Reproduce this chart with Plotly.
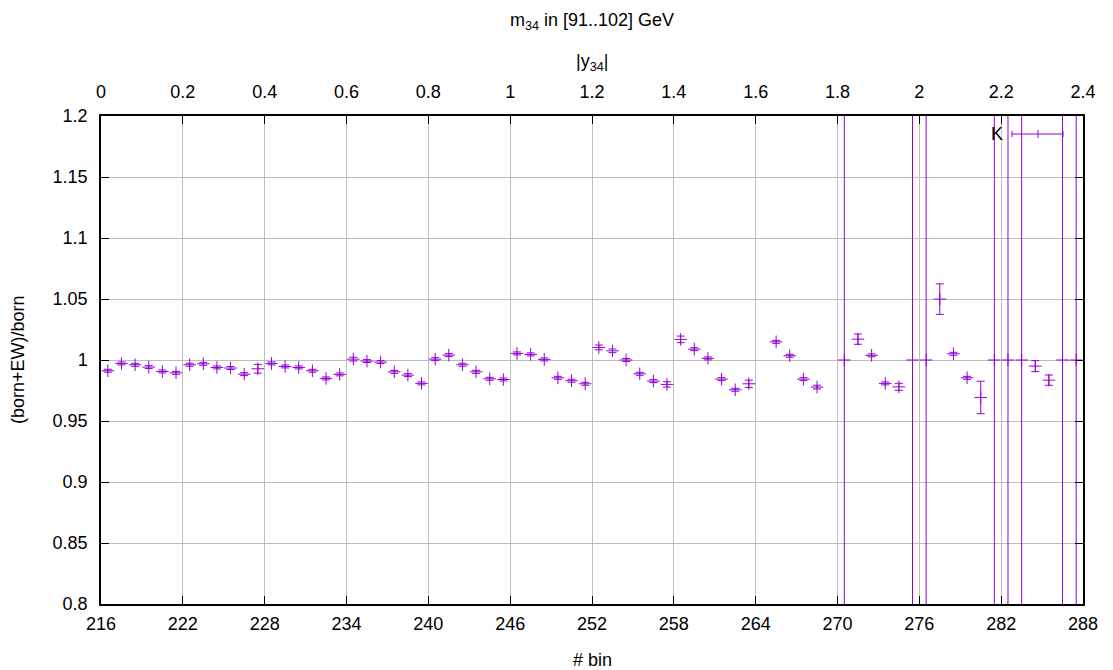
import plotly.graph_objects as go

# bin centers 216.5 .. 287.5
bins = [216.5 + i for i in range(72)]

ratio = [
    0.9912, 0.9972, 0.9961, 0.9942, 0.9906, 0.9895,   # 216-221
    0.9961, 0.9969, 0.9939, 0.9934, 0.9884, 0.9928,   # 222-227
    0.9972, 0.9947, 0.9939, 0.9912, 0.9849, 0.9882,   # 228-233
    1.0007, 0.9991, 0.9983, 0.9903, 0.9876, 0.9808,   # 234-239
    1.0007, 1.0040, 0.9961, 0.9903, 0.9846, 0.9840,   # 240-245
    1.0054, 1.0046, 1.0005, 0.9854, 0.9830, 0.9805,   # 246-251
    1.0103, 1.0075, 1.0000, 0.9887, 0.9827, 0.9800,   # 252-257
    1.0169, 1.0089, 1.0013, 0.9843, 0.9756, 0.9805,   # 258-263
    None,   1.0149, 1.0035, 0.9843, 0.9778, None,     # 264-269
    1.0000, 1.0171, 1.0038, 0.9808, 0.9780, 1.0000,   # 270-275
    1.0000, 1.0499, 1.0051, 0.9854, 0.9693, 1.0000,   # 276-281
    1.0000, 1.0000, 0.9950, 0.9835, 1.0000, 1.0000,   # 282-287
]

err = [
    0.0012, 0.0012, 0.0012, 0.0012, 0.0012, 0.0012,
    0.0012, 0.0012, 0.0012, 0.0012, 0.0012, 0.0036,
    0.0012, 0.0012, 0.0012, 0.0012, 0.0012, 0.0012,
    0.0015, 0.0012, 0.0012, 0.0012, 0.0012, 0.0012,
    0.0012, 0.0012, 0.0012, 0.0012, 0.0012, 0.0012,
    0.0012, 0.0012, 0.0012, 0.0012, 0.0012, 0.0012,
    0.0020, 0.0015, 0.0012, 0.0012, 0.0012, 0.0022,
    0.0027, 0.0012, 0.0012, 0.0012, 0.0012, 0.0030,
    0.0,    0.0012, 0.0012, 0.0012, 0.0015, 0.0,
    1.0,    0.0042, 0.0012, 0.0012, 0.0029, 1.0,
    1.0,    0.0125, 0.0012, 0.0012, 0.0133, 1.0,
    1.0,    1.0,    0.0045, 0.0042, 1.0,    1.0,
]

x_ticks = [216, 222, 228, 234, 240, 246, 252, 258, 264, 270, 276, 282, 288]
x2_ticks = [0, 0.2, 0.4, 0.6, 0.8, 1, 1.2, 1.4, 1.6, 1.8, 2, 2.2, 2.4]
x2_labels = ["0", "0.2", "0.4", "0.6", "0.8", "1", "1.2", "1.4", "1.6", "1.8", "2", "2.2", "2.4"]
y_ticks = [0.8, 0.85, 0.9, 0.95, 1.0, 1.05, 1.1, 1.15, 1.2]
y_labels = ["0.8", "0.85", "0.9", "0.95", "1", "1.05", "1.1", "1.15", "1.2"]

COLOR = "#9400D3"
FONT = "Liberation Sans, Arial, sans-serif"
FS = 18

fig = go.Figure()
fig.add_trace(go.Scatter(
    x=bins, y=ratio, mode="markers", name="K", showlegend=False,
    marker=dict(symbol="cross-thin", size=9, color=COLOR,
                line=dict(color=COLOR, width=1)),
    error_y=dict(type="data", array=err, visible=True,
                 color=COLOR, thickness=1, width=4),
))
# dummy trace to activate the top axis
fig.add_trace(go.Scatter(x=[None], y=[None], xaxis="x2", yaxis="y",
                         showlegend=False, hoverinfo="skip"))

L, R, T, B = 101, 30, 116, 66
W, H = 1113, 670
pw, ph = W - L - R, H - T - B

def py(p):
    return (H - B - p) / ph

def px(p):
    return (p - L) / pw

grid_col = "#bdbdbd"
fig.update_layout(
    width=W, height=H,
    margin=dict(l=L, r=R, t=T, b=B),
    plot_bgcolor="white", paper_bgcolor="white",
    font=dict(family=FONT, size=FS, color="black"),
    xaxis=dict(range=[216, 288], tickvals=x_ticks, ticktext=[str(v) for v in x_ticks],
               showgrid=True, gridcolor=grid_col, gridwidth=1,
               showline=True, linecolor="black", linewidth=1.5, mirror=True,
               ticks="inside", ticklen=8, tickcolor="black",
               ticklabelstandoff=3, zeroline=False),
    xaxis2=dict(range=[0, 2.4], overlaying="x", side="top",
                tickvals=x2_ticks, ticktext=x2_labels, showgrid=False,
                ticks="inside", ticklen=8, tickcolor="black",
                ticklabelstandoff=13, zeroline=False, showline=False),
    yaxis=dict(range=[0.8, 1.2], tickvals=y_ticks, ticktext=y_labels,
               showgrid=True, gridcolor=grid_col, gridwidth=1,
               showline=True, linecolor="black", linewidth=1.5, mirror="ticks",
               ticks="inside", ticklen=8, tickcolor="black",
               ticklabelstandoff=8, zeroline=False),
    showlegend=False,
)

ann = [
    dict(text="m<sub>34</sub> in [91..102] GeV", x=0.5, y=py(22), xref="paper", yref="paper",
         showarrow=False, font=dict(size=FS), xanchor="center", yanchor="middle"),
    dict(text="|y<sub>34</sub>|", x=0.5, y=py(62), xref="paper", yref="paper",
         showarrow=False, font=dict(size=FS), xanchor="center", yanchor="middle"),
    dict(text="# bin", x=0.5, y=py(660), xref="paper", yref="paper",
         showarrow=False, font=dict(size=FS), xanchor="center", yanchor="middle"),
    dict(text="(born+EW)/born", x=px(18), y=0.5, xref="paper", yref="paper",
         showarrow=False, font=dict(size=FS), textangle=-90,
         xanchor="center", yanchor="middle"),
    dict(text="K", x=px(1005), y=py(134), xref="paper", yref="paper",
         showarrow=False, font=dict(size=FS), xanchor="right", yanchor="middle"),
]
fig.update_layout(annotations=ann)

# key sample (legend decoration) in paper coordinates
ky = py(134)
x0, x1, xm = px(1012), px(1063), px(1038)
d = 3 / ph
shapes = [
    dict(type="line", xref="paper", yref="paper", x0=x0, x1=x1, y0=ky, y1=ky,
         line=dict(color=COLOR, width=1)),
    dict(type="line", xref="paper", yref="paper", x0=x0, x1=x0, y0=ky - d, y1=ky + d,
         line=dict(color=COLOR, width=1)),
    dict(type="line", xref="paper", yref="paper", x0=x1, x1=x1, y0=ky - d, y1=ky + d,
         line=dict(color=COLOR, width=1)),
    dict(type="line", xref="paper", yref="paper", x0=xm, x1=xm, y0=ky - 4 / ph, y1=ky + 4 / ph,
         line=dict(color=COLOR, width=1)),
]
fig.update_layout(shapes=shapes)

fig.write_html("out.html")
